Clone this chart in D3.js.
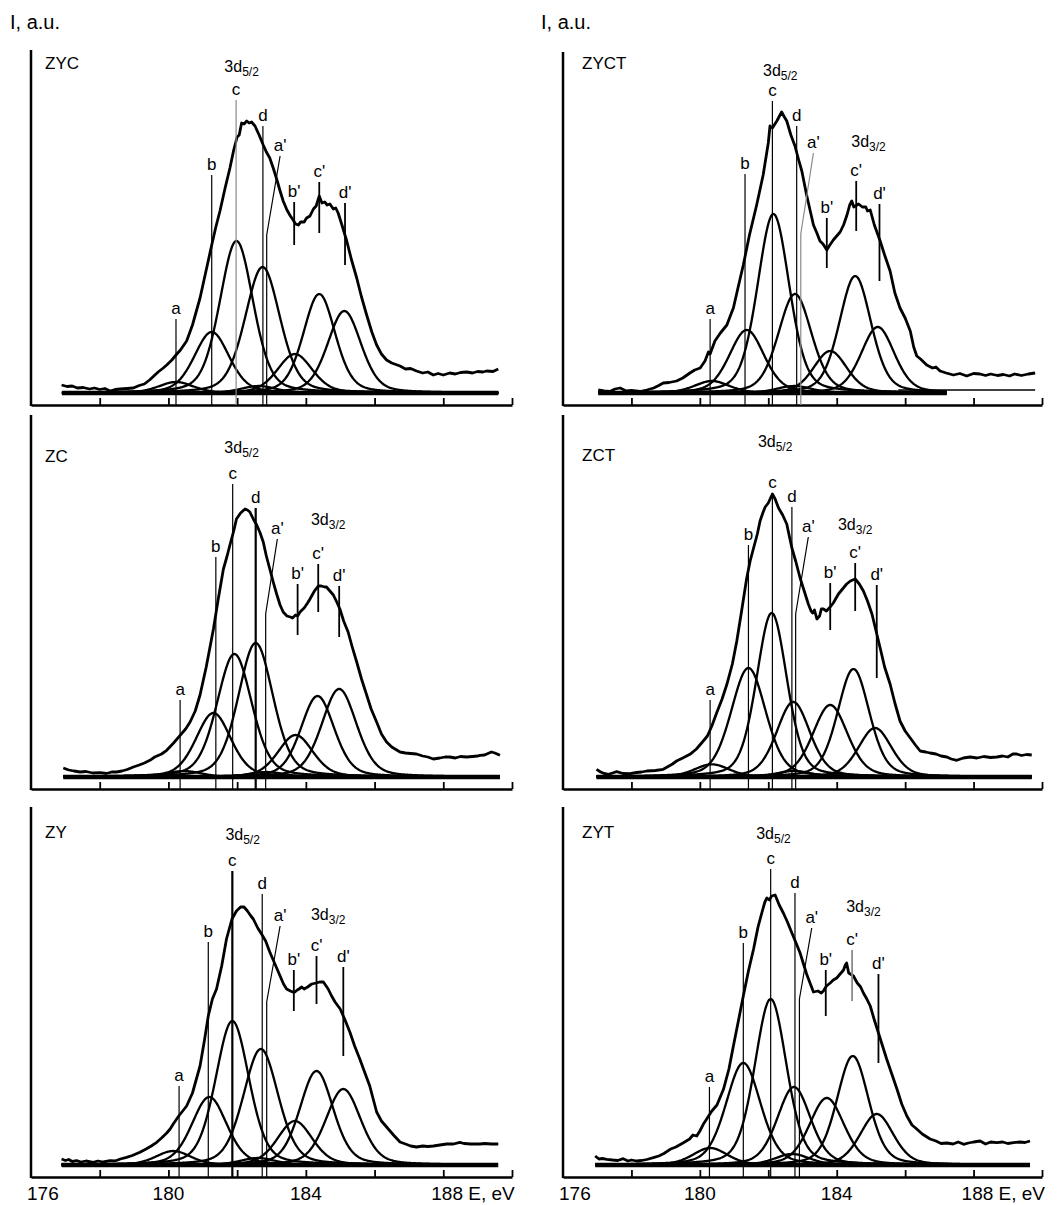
<!DOCTYPE html>
<html>
<head>
<meta charset="utf-8">
<script src="https://cdn.jsdelivr.net/npm/d3@7"></script>
<style>
  body { margin: 0; background: #fff; }
  svg { display: block; font-family: "Liberation Sans", Arial, sans-serif; }
</style>
</head>
<body>
<div id="chart"></div>
<script>
// ---------------- data ----------------
const panelNames = ["ZYC", "ZYCT", "ZC", "ZCT", "ZY", "ZYT"];
const peakNames = ["a", "b", "c", "d", "a'", "b'", "c'", "d'"];
const energyTicks = [178, 180, 182, 184, 186, 188, 190];
const energyLabels = [176, 180, 184, 188];

// intensity is in a.u. counted up from the x axis; fitted components sit on this level
const baseLevel = [12, 12, 12, 12, 12, 12];
// energy range covered by the fitted components
const compRange = [[176.9, 189.6], [177.03, 187.22], [176.94, 189.65], [176.98, 189.7], [176.89, 189.6], [176.94, 189.65]];

// component centres (eV), peak heights (a.u. above base) and FWHM (eV), order a b c d a' b' c' d'
const centres = [
  [180.22, 181.26, 181.98, 182.74, 182.62, 183.68, 184.39, 185.12],
  [180.35, 181.37, 182.15, 182.78, 182.75, 183.81, 184.54, 185.20],
  [180.45, 181.31, 181.92, 182.54, 182.85, 183.70, 184.34, 184.97],
  [180.35, 181.42, 182.10, 182.73, 182.75, 183.81, 184.49, 185.12],
  [180.14, 181.19, 181.86, 182.69, 182.60, 183.68, 184.31, 185.09],
  [180.30, 181.27, 182.07, 182.75, 182.70, 183.71, 184.47, 185.17]
];
const heights = [
  [11, 61, 152, 126, 7, 39, 99, 82],
  [12, 63, 179, 99, 7, 42, 117, 66],
  [6, 64, 123, 134, 5, 42, 81, 88],
  [12.7, 109, 164, 75, 6, 72, 108, 49],
  [14, 68, 144, 116, 7, 44, 94, 76],
  [17, 102, 166, 78, 11, 67, 109, 51]
];
const widths = [
  [1.2, 1.2, 1.15, 1.2, 1.2, 1.2, 1.1, 1.15],
  [1.2, 1.2, 1.1, 1.15, 1.2, 1.15, 1.1, 1.15],
  [1.2, 1.2, 1.2, 1.2, 1.2, 1.2, 1.15, 1.2],
  [1.2, 1.2, 1.05, 1.15, 1.2, 1.2, 1.1, 1.15],
  [1.2, 1.2, 1.15, 1.2, 1.2, 1.2, 1.15, 1.2],
  [1.2, 1.2, 1.1, 1.15, 1.2, 1.2, 1.1, 1.15]
];

// measured envelopes, [E (eV), I (a.u.)]
const envZYC = [[176.89,20],[177.05,18.5],[177.2,19],[177.35,17],[177.52,17.5],[177.7,16],[177.85,17],[178.0,15.5],[178.15,16.5],[178.3,14],[178.45,15.5],[178.6,16],[178.8,16.5],[178.98,17],[179.15,19.5],[179.3,21],[179.45,25],[179.56,28.5],[179.7,33],[179.85,37],[179.95,40],[180.1,45],[180.22,50],[180.35,55],[180.53,64],[180.7,80],[180.92,107],[181.1,135],[181.26,160],[181.38,178],[181.5,194],[181.65,217],[181.79,237],[181.9,255],[182.0,268],[182.06,270],[182.13,282],[182.2,281],[182.28,284],[182.35,282],[182.42,283],[182.52,279],[182.64,270],[182.76,260],[182.85,253],[182.95,247],[183.05,237],[183.15,226],[183.25,214],[183.34,204],[183.45,195],[183.55,189],[183.63,185],[183.7,181],[183.78,180],[183.85,183],[183.95,183],[184.02,187],[184.12,189],[184.22,196],[184.3,199],[184.39,209],[184.47,202],[184.55,203],[184.62,200],[184.7,201],[184.8,196],[184.87,197],[184.94,192],[185.05,180],[185.19,164],[185.33,145],[185.48,127],[185.62,108],[185.77,90],[185.92,73],[186.06,60],[186.2,51],[186.35,45],[186.5,42],[186.74,39],[186.9,36],[187.05,36.5],[187.22,34],[187.4,32],[187.55,33],[187.71,30],[187.85,31.5],[188.0,30],[188.19,32],[188.35,31],[188.5,32.5],[188.68,33],[188.85,32],[189.0,33.5],[189.15,33],[189.26,34],[189.45,33.5],[189.6,36]];
const envZYCT = [[177.03,15],[177.2,14],[177.37,13.5],[177.52,16],[177.67,17],[177.85,14],[178.0,14.5],[178.25,13.5],[178.45,15],[178.65,17],[178.8,19.5],[178.93,22],[179.1,22.5],[179.32,24],[179.5,27],[179.71,32],[179.85,35],[180.01,37],[180.15,44],[180.25,53],[180.3,51],[180.44,64],[180.6,72],[180.79,80],[180.9,90],[180.98,97],[181.1,115],[181.27,140],[181.45,170],[181.66,200],[181.85,230],[182.0,262],[182.05,279],[182.12,277],[182.25,284],[182.39,293],[182.47,288],[182.54,284],[182.66,270],[182.78,259],[182.88,246],[182.98,234],[183.05,222],[183.12,210],[183.22,195],[183.32,180],[183.42,172],[183.51,164],[183.6,161],[183.71,155],[183.8,160],[183.9,165],[184.0,169],[184.1,173],[184.2,180],[184.3,190],[184.38,200],[184.44,204],[184.5,198],[184.64,201],[184.75,198],[184.85,198],[184.9,194],[184.98,195],[185.1,180],[185.27,164],[185.4,150],[185.56,134],[185.7,112],[185.85,97],[186.0,87],[186.15,74],[186.25,58],[186.34,49],[186.45,46],[186.63,40],[186.8,37],[186.9,38],[187.02,34],[187.2,32],[187.41,30],[187.6,31.5],[187.8,29],[188.0,31.5],[188.19,31],[188.35,29.5],[188.5,31],[188.7,29.5],[188.87,30.5],[189.05,29],[189.2,31],[189.4,29.5],[189.6,31],[189.8,32]];
const envZC = [[176.94,21],[177.1,19],[177.25,18],[177.43,17],[177.6,17.5],[177.8,16],[178.01,16.3],[178.2,15.5],[178.35,17],[178.49,17],[178.65,18],[178.8,19.5],[178.98,22],[179.15,24],[179.3,26],[179.46,28.7],[179.6,32],[179.8,35],[179.95,38.7],[180.15,46],[180.34,53.7],[180.5,60],[180.63,67],[180.78,78],[180.92,94],[181.1,122],[181.31,160],[181.45,190],[181.6,220],[181.7,232],[181.79,244],[181.9,258],[181.98,270],[182.1,276],[182.23,280],[182.3,279],[182.37,277],[182.47,270],[182.57,264],[182.67,256],[182.76,247],[182.85,233],[182.95,220],[183.05,207],[183.15,195],[183.25,184],[183.34,177],[183.45,173],[183.55,172],[183.61,171],[183.7,174],[183.76,173],[183.83,177],[183.95,181],[184.05,186],[184.12,190],[184.25,198],[184.36,203],[184.45,203],[184.55,202],[184.6,202],[184.7,198],[184.8,194],[184.9,187],[184.99,180],[185.1,168],[185.23,157],[185.35,142],[185.48,127],[185.62,110],[185.77,94],[185.9,80],[186.06,67],[186.2,55],[186.35,47],[186.5,42],[186.74,37],[186.9,36],[187.05,35.5],[187.22,35],[187.4,33],[187.55,32],[187.71,30],[187.9,31],[188.05,32],[188.19,32],[188.35,31],[188.5,32.5],[188.68,32],[188.85,32.5],[189.0,33],[189.07,33.7],[189.2,34],[189.4,37],[189.5,36],[189.65,33.7]];
const envZCT = [[176.98,19.7],[177.1,17],[177.2,15.5],[177.33,14.7],[177.45,16],[177.57,17.3],[177.75,15.5],[177.96,15.3],[178.15,16.5],[178.3,17],[178.45,18],[178.7,18.5],[178.93,19.7],[179.1,23],[179.2,25],[179.32,28],[179.5,31],[179.71,34.7],[179.9,40],[180.1,48],[180.22,53],[180.35,63],[180.49,76],[180.65,90],[180.79,104.7],[180.95,125],[181.08,148],[181.22,178],[181.37,211],[181.47,228],[181.57,241],[181.68,255],[181.76,268],[181.85,277],[181.91,282],[182.0,286],[182.12,295],[182.2,290],[182.3,281],[182.42,274],[182.54,265],[182.62,252],[182.69,241],[182.8,228],[182.93,211],[183.05,198],[183.17,185],[183.25,178],[183.3,176],[183.35,179],[183.42,170],[183.5,173],[183.55,180],[183.61,180],[183.7,178],[183.81,182],[183.9,186],[184.05,195],[184.17,200],[184.29,205],[184.4,208],[184.54,210],[184.66,205],[184.78,198],[184.9,188],[185.03,175],[185.15,158],[185.27,141],[185.4,122],[185.56,105],[185.7,86],[185.85,68],[186.0,58],[186.15,51],[186.3,44],[186.44,38],[186.6,37],[186.73,36],[186.9,35],[187.05,33],[187.22,32],[187.35,30],[187.51,28.7],[187.7,31],[187.9,32],[188.1,31],[188.3,32.5],[188.5,31.5],[188.68,32],[188.85,33],[189.0,32],[189.15,35],[189.26,35],[189.4,33.5],[189.55,34.5],[189.7,34]];
const envZY = [[176.89,18],[177.0,16.5],[177.1,17.5],[177.2,15.5],[177.33,16.3],[177.45,15],[177.6,16],[177.81,14.7],[177.95,16],[178.1,15],[178.3,16.3],[178.45,16],[178.6,18],[178.78,19.7],[178.95,21.5],[179.17,24.7],[179.35,28],[179.5,31],[179.66,34.7],[179.8,39],[179.95,44],[180.05,48],[180.14,53],[180.3,61],[180.53,71],[180.7,84],[180.92,111],[181.05,137],[181.16,161],[181.28,178],[181.4,188],[181.55,211],[181.69,238],[181.85,258],[181.98,266],[182.1,270],[182.2,270],[182.3,266],[182.4,261],[182.47,258],[182.6,249],[182.71,243],[182.83,236],[182.95,225],[183.1,213],[183.25,201],[183.35,193],[183.44,188],[183.55,186],[183.62,185],[183.68,185],[183.75,187],[183.8,188],[183.88,190],[183.95,188],[184.05,190],[184.17,193],[184.3,194],[184.4,195],[184.51,195],[184.55,193],[184.65,188],[184.75,181],[184.85,175],[185.0,168],[185.14,157],[185.28,145],[185.42,131],[185.57,118],[185.72,104],[185.86,91],[185.96,78],[186.06,65],[186.2,56],[186.35,50],[186.55,42],[186.74,35],[186.9,33],[187.05,31],[187.22,30],[187.4,31],[187.55,30.5],[187.71,31],[187.9,32],[188.1,33],[188.3,33],[188.48,34.7],[188.6,33.5],[188.8,33],[189.07,33],[189.2,33.5],[189.4,33],[189.6,33]];
const envZYT = [[176.94,21],[177.05,18],[177.15,18.5],[177.28,17.7],[177.45,17],[177.6,16.5],[177.76,18.3],[177.9,16],[178.0,17],[178.15,16],[178.3,16.5],[178.45,17.5],[178.64,19.3],[178.8,21],[178.95,23.5],[179.13,27.7],[179.3,30],[179.52,34.3],[179.7,38],[179.8,42],[179.91,41],[180.0,46],[180.1,52.7],[180.2,58],[180.35,66],[180.5,72],[180.69,87.7],[180.85,108],[180.98,131],[181.12,155],[181.27,181],[181.42,206],[181.57,228],[181.7,250],[181.81,264],[181.9,275],[181.96,279],[182.03,277],[182.1,281],[182.2,282],[182.32,272],[182.44,264],[182.56,255],[182.69,244],[182.8,235],[182.93,224],[183.02,214],[183.12,203],[183.22,194],[183.32,185],[183.45,186],[183.55,184],[183.61,186],[183.7,191],[183.81,194],[183.9,197],[184.0,199],[184.1,203],[184.2,207],[184.25,212],[184.29,214],[184.35,204],[184.49,201],[184.6,194],[184.7,190],[184.78,184],[184.88,178],[184.98,171],[185.1,157],[185.22,144],[185.34,131],[185.46,118],[185.6,104],[185.76,88],[185.9,73],[186.05,61],[186.2,52],[186.34,48],[186.5,43],[186.73,38],[186.9,36],[187.05,33.5],[187.22,34],[187.4,33],[187.55,35],[187.71,32.7],[187.85,34],[188.0,35],[188.19,36],[188.35,33],[188.5,35],[188.68,34.3],[188.85,35],[189.0,33.5],[189.17,34.3],[189.35,35],[189.5,34.5],[189.65,36]];
const envelopes = [envZYC, envZYCT, envZC, envZCT, envZY, envZYT];

// level of the flat background tail drawn past the fit (ZYCT only)
const tailLine = [null, [185.8, 189.8, 15], null, null, null, null];

// peak marker lines: foot energy, top intensity, lower end (0 = down to the axis)
const markE = [
  [180.22, 181.26, 181.97, 182.75, 182.86, 183.66, 184.39, 185.14],
  [180.30, 181.32, 182.12, 182.83, 182.95, 183.71, 184.57, 185.25],
  [180.34, 181.38, 181.87, 182.54, 182.83, 183.76, 184.36, 184.97],
  [180.30, 181.42, 182.12, 182.69, 182.80, 183.81, 184.54, 185.17],
  [180.31, 181.16, 181.86, 182.73, 182.86, 183.65, 184.31, 185.09],
  [180.28, 181.27, 182.07, 182.78, 182.91, 183.68, 184.45, 185.22]
];
const markTop = [
  [86, 230, 305, 279, 249, 203, 223, 202],
  [86, 231, 304, 279, 252, 187, 224, 201],
  [89, 232, 305, 281, 250, 205, 225, 203],
  [89, 244, 296, 282, 252, 206, 226, 204],
  [91, 235, 306, 283, 251, 207, 221, 210],
  [90, 234, 308, 284, 249, 207, 227, 203]
];
const markLow = [
  [0, 0, 0, 0, 0, 160, 172, 140],
  [0, 0, 0, 0, 0, 137, 174, 124],
  [0, 0, 0, 0, 0, 154, 177, 152],
  [0, 0, 0, 0, 0, 159, 178, 111],
  [0, 0, 0, 0, 0, 166, 173, 121],
  [0, 0, 0, 0, 0, 161, 176, 114]
];
// the a' marker is bent: its top sits at a higher energy, the kink at this intensity
const primeTopE = [183.25, 183.32, 183.17, 183.17, 183.25, 183.27];
const primeKink = [170, 171, 175, 175, 175, 178];

// spin-orbit labels [E, I] (label centre)
const label52 = [[182.13, 339], [182.35, 335], [182.13, 342], [182.2, 348], [182.16, 343], [182.15, 344]];
const label32 = [null, [184.93, 264], [184.65, 270], [184.54, 265], [184.65, 263], [184.78, 271]];
const nameLevel = [342, 342, 333, 334, 345, 345];

// ---------------- layout ----------------
const width = 1061, height = 1205;
const colLeft = [31, 563], colRight = [512, 1042];
const rowAxis = [405, 789, 1177];
const axisTop = [[50, 52], [415, 415], [807, 807]];
const namePad = [14, 19];
const glMix = 0.3;   // Lorentzian share of the component line shape

// marker styling that differs from the default
const greyMarks = { 0: ["c"], 1: ["a'"], 5: ["c'"] };
const boldMarks = { 2: ["d"], 4: ["c"] };

const svg = d3.select("#chart").append("svg")
  .attr("width", width)
  .attr("height", height);

// y axis label of each column
[0, 1].forEach(col => {
  svg.append("text")
    .attr("x", col === 0 ? 10 : 541)
    .attr("y", 29)
    .attr("font-size", 20)
    .text("I, a.u.");
});

function glProfile(e, c, h, w) {
  const dx = (e - c) / w;
  const g = Math.exp(-4 * Math.LN2 * dx * dx);
  const l = 1 / (1 + 4 * dx * dx);
  return h * ((1 - glMix) * g + glMix * l);
}

panelNames.forEach((name, i) => {
  const col = i % 2, row = Math.floor(i / 2);
  const axisY = rowAxis[row];

  const x = d3.scaleLinear().domain([176, 190]).range([colLeft[col], colRight[col]]);
  const y = d3.scaleLinear().domain([0, 400]).range([axisY, axisY - 400]);
  const base = baseLevel[i];

  const g = svg.append("g");

  // fitted components
  const [e0, e1] = compRange[i];
  const grid = d3.range(e0, e1 + 0.001, 0.02);
  const line = d3.line().x(d => x(d[0])).y(d => y(d[1]));

  centres[i].forEach((c, k) => {
    const pts = grid.map(e => [e, base + glProfile(e, c, heights[i][k], widths[i][k])]);
    g.append("path")
      .attr("d", line(pts))
      .attr("fill", "none")
      .attr("stroke", "#000")
      .attr("stroke-width", 2.3);
  });

  // thick common baseline of the components
  g.append("path")
    .attr("d", line([[e0, base], [e1, base]]))
    .attr("stroke", "#000")
    .attr("stroke-width", 4.5);

  if (tailLine[i]) {
    const [t0, t1, lv] = tailLine[i];
    g.append("path")
      .attr("d", line([[t0, lv], [t1, lv]]))
      .attr("stroke", "#000")
      .attr("stroke-width", 1.5);
  }

  // envelope
  g.append("path")
    .attr("d", line(envelopes[i]))
    .attr("fill", "none")
    .attr("stroke", "#000")
    .attr("stroke-width", 2.8)
    .attr("stroke-linejoin", "round");

  // axes
  const xAxis = d3.axisBottom(x)
    .tickValues(energyTicks)
    .tickSize(-7)
    .tickSizeOuter(0)
    .tickFormat("");
  const xg = g.append("g")
    .attr("transform", `translate(0,${axisY})`)
    .call(xAxis);
  xg.select(".domain").attr("stroke-width", 2.5);
  xg.selectAll(".tick line").attr("stroke-width", 1.8);

  g.append("line")
    .attr("x1", x(176)).attr("x2", x(176))
    .attr("y1", axisTop[row][col]).attr("y2", axisY + 1)
    .attr("stroke", "#000")
    .attr("stroke-width", 2.5);

  // marker lines and their letters
  peakNames.forEach((p, k) => {
    const e = markE[i][k];
    const isPrime = p === "a'";
    const topE = isPrime ? primeTopE[i] : e;
    const grey = (greyMarks[i] || []).includes(p);
    const bold = (boldMarks[i] || []).includes(p);
    const short = markLow[i][k] > 0;

    let pts;
    if (isPrime) pts = [[topE, markTop[i][k]], [e, primeKink[i]], [e, 0]];
    else pts = [[e, markTop[i][k]], [e, markLow[i][k]]];

    g.append("path")
      .attr("d", line(pts))
      .attr("fill", "none")
      .attr("stroke", grey ? "#8a8a8a" : "#000")
      .attr("stroke-width", bold ? 2.2 : (short ? 1.8 : 1.2));

    g.append("text")
      .attr("x", x(topE))
      .attr("y", y(markTop[i][k]) - 5)
      .attr("text-anchor", "middle")
      .attr("font-size", 17)
      .text(p);
  });

  // spin-orbit labels with subscripts
  [[label52[i], "5/2"], [label32[i], "3/2"]].forEach(([pos, sub]) => {
    if (!pos) return;
    const t = g.append("text")
      .attr("x", x(pos[0]))
      .attr("y", y(pos[1]) + 6)
      .attr("text-anchor", "middle")
      .attr("font-size", 16);
    t.append("tspan").text("3d");
    t.append("tspan").attr("font-size", 12).attr("dy", 4).text(sub);
  });

  // panel name
  g.append("text")
    .attr("x", x(176) + namePad[col])
    .attr("y", y(nameLevel[i]) + 6)
    .attr("font-size", 17)
    .text(name);

  // energy labels under the bottom row
  if (row === 2) {
    energyLabels.forEach(v => {
      const t = g.append("text")
        .attr("y", axisY + 23)
        .attr("font-size", 19);
      if (v === 176) t.attr("x", x(v) - 4).attr("text-anchor", "start").text(v);
      else if (v === 188) t.attr("x", x(v) - 12).attr("text-anchor", "start").text(v + " E, eV");
      else t.attr("x", x(v)).attr("text-anchor", "middle").text(v);
    });
  }
});
</script>
</body>
</html>
